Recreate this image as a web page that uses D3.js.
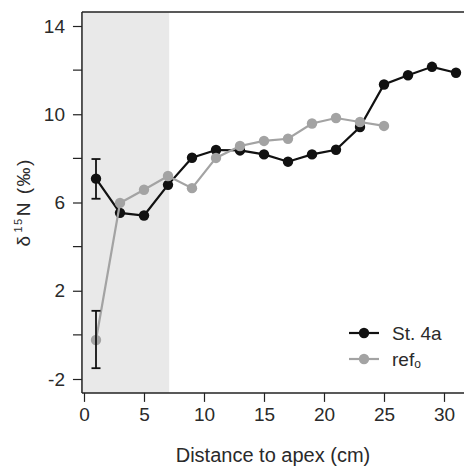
<!DOCTYPE html>
<html>
<head>
<meta charset="utf-8">
<script src="https://cdn.jsdelivr.net/npm/d3@7"></script>
<style>
  body { margin: 0; background: #fff; }
  svg { display: block; font-family: "Liberation Sans", Arial, sans-serif; }
</style>
</head>
<body>
<svg id="chart" width="464" height="468"></svg>
<script>
// ---- data ----
const distance = [1, 3, 5, 7, 9, 11, 13, 15, 17, 19, 21, 23, 25, 27, 29, 31];
const st4a = [7.08, 5.53, 5.41, 6.8, 8.03, 8.38, 8.36, 8.18, 7.85, 8.18, 8.39, 9.42, 11.35, 11.77, 12.15, 11.88];
const refDistance = [1, 3, 5, 7, 9, 11, 13, 15, 17, 19, 21, 23, 25];
const ref0 = [-0.23, 5.98, 6.58, 7.2, 6.65, 8.02, 8.56, 8.79, 8.89, 9.58, 9.83, 9.65, 9.47];
const errorBars = [
  { series: "St. 4a", x: 1, low: 6.17, high: 7.97 },
  { series: "ref0", x: 1, low: -1.51, high: 1.09 }
];
const shadedRange = [0, 7.1];
const xTicks = [0, 5, 10, 15, 20, 25, 30];
const yMajorTicks = [-2, 2, 6, 10, 14];
const yMinorTicks = [0, 4, 8, 12];

// ---- scales ----
const svg = d3.select("#chart");
const x = d3.scaleLinear().domain([0, 30]).range([84, 444]);
const y = d3.scaleLinear().domain([-2, 14]).range([379, 26]);
const xMin = -0.17, xMax = 32;
const yMin = -2.63, yMax = 14.64;

const black = "#111111";
const gray = "#a3a3a3";
const textColor = "#2a2a2a";

// shaded region
svg.append("rect")
  .attr("x", x(xMin))
  .attr("y", y(yMax))
  .attr("width", x(shadedRange[1]) - x(xMin))
  .attr("height", y(yMin) - y(yMax))
  .attr("fill", "#e9e9e9");

// frame: top
const frameColor = "#222";
svg.append("line").attr("x1", x(xMin)).attr("x2", x(xMax)).attr("y1", y(yMax)).attr("y2", y(yMax))
  .attr("stroke", frameColor).attr("stroke-width", 1.5);

const fmt = d => String(d); // plain hyphen for negatives

// axes
const xAxis = d3.axisBottom(x).tickValues(xTicks).tickSize(9).tickPadding(6).tickFormat(fmt);
const gx = svg.append("g").attr("transform", `translate(0,${y(yMin)})`).call(xAxis);
gx.select(".domain").attr("d", `M${x(xMin)},0H${x(xMax)}`).attr("stroke", frameColor).attr("stroke-width", 1.5);
gx.selectAll(".tick line").attr("stroke", frameColor).attr("stroke-width", 1.2);
gx.selectAll(".tick text").attr("font-size", 19).attr("fill", textColor).attr("font-family", "Liberation Sans, Arial, sans-serif");

const yAxis = d3.axisLeft(y).tickValues(yMajorTicks).tickSize(9).tickPadding(8).tickFormat(fmt);
const gy = svg.append("g").attr("transform", `translate(${x(xMin)},0)`).call(yAxis);
gy.select(".domain").attr("d", `M0,${y(yMin)}V${y(yMax)}`).attr("stroke", frameColor).attr("stroke-width", 1.5);
gy.selectAll(".tick line").attr("stroke", frameColor).attr("stroke-width", 1.2);
gy.selectAll(".tick text").attr("font-size", 19).attr("fill", textColor).attr("font-family", "Liberation Sans, Arial, sans-serif");
gy.selectAll(".minor").data(yMinorTicks).enter().append("line")
  .attr("x1", 0).attr("x2", -9).attr("y1", d => y(d)).attr("y2", d => y(d))
  .attr("stroke", frameColor).attr("stroke-width", 1.2);

// axis titles
svg.append("text")
  .attr("x", (x(xMin) + 464) / 2).attr("y", 462)
  .attr("text-anchor", "middle").attr("font-size", 20).attr("fill", textColor)
  .text("Distance to apex (cm)");

const yl = svg.append("text")
  .attr("transform", `translate(30,${(y(yMin) + y(yMax)) / 2}) rotate(-90)`)
  .attr("text-anchor", "middle").attr("font-size", 19).attr("fill", textColor)
  .attr("letter-spacing", 1.5);
yl.append("tspan").text("δ");
yl.append("tspan").attr("font-size", 11).attr("dy", -8).attr("dx", 2).text("15");
yl.append("tspan").attr("dy", 8).attr("dx", 1).text("N (‰)");

// series
const line = d3.line().x(d => x(d[0])).y(d => y(d[1]));
const blackData = distance.map((d, i) => [d, st4a[i]]);
const grayData = refDistance.map((d, i) => [d, ref0[i]]);

function drawSeries(data, color) {
  svg.append("path").datum(data).attr("d", line)
    .attr("fill", "none").attr("stroke", color).attr("stroke-width", 2.2);
  svg.append("g").selectAll("circle").data(data).enter().append("circle")
    .attr("cx", d => x(d[0])).attr("cy", d => y(d[1])).attr("r", 5.2).attr("fill", color);
}
drawSeries(blackData, black);
drawSeries(grayData, gray);

// error bars
const eb = svg.append("g").attr("stroke", black).attr("stroke-width", 1.8);
errorBars.forEach(e => {
  eb.append("line").attr("x1", x(e.x)).attr("x2", x(e.x)).attr("y1", y(e.low)).attr("y2", y(e.high));
  eb.append("line").attr("x1", x(e.x) - 4.5).attr("x2", x(e.x) + 4.5).attr("y1", y(e.low)).attr("y2", y(e.low));
  eb.append("line").attr("x1", x(e.x) - 4.5).attr("x2", x(e.x) + 4.5).attr("y1", y(e.high)).attr("y2", y(e.high));
});

// legend
const legend = [
  { label: "St. 4a", color: black, sub: null },
  { label: "ref", color: gray, sub: "o" }
];
const lg = svg.append("g").attr("transform", "translate(349,333)");
legend.forEach((d, i) => {
  const g = lg.append("g").attr("transform", `translate(0,${i * 26})`);
  g.append("line").attr("x1", 0).attr("x2", 30).attr("y1", 0).attr("y2", 0)
    .attr("stroke", d.color).attr("stroke-width", 2.2);
  g.append("circle").attr("cx", 15).attr("cy", 0).attr("r", 5.2).attr("fill", d.color);
  const t = g.append("text").attr("x", 43).attr("y", 6.5).attr("font-size", 19).attr("fill", textColor).text(d.label);
  if (d.sub) t.append("tspan").attr("font-size", 12).attr("dy", 2).text(d.sub);
});
</script>
</body>
</html>
